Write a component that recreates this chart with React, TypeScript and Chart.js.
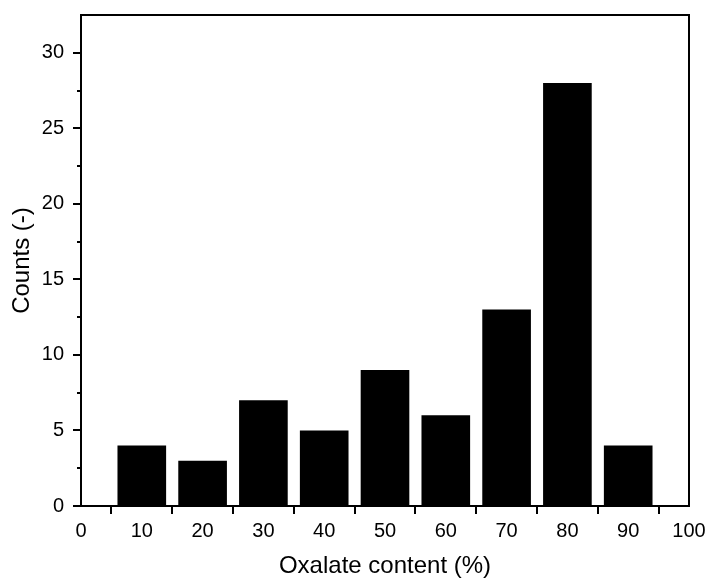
import React, { useEffect, useRef } from "react";
import { Chart, registerables } from "chart.js";

Chart.register(...registerables);

const binCenters = [10, 20, 30, 40, 50, 60, 70, 80, 90];
const counts = [4, 3, 7, 5, 9, 6, 13, 28, 4];
const xTitle = "Oxalate content (%)";
const yTitle = "Counts (-)";
const FONT = "Arial, 'Liberation Sans', sans-serif";

const framePlugin = {
  id: "frame",
  afterDraw(chart: any) {
    const { ctx, chartArea } = chart;
    const { left, right, top, bottom } = chartArea;
    ctx.save();
    ctx.strokeStyle = "#000";
    ctx.lineWidth = 2;
    ctx.strokeRect(left, top, right - left, bottom - top);
    const xs = chart.scales.x;
    const ys = chart.scales.y;
    for (let i = 0; i < xs.ticks.length - 1; i++) {
      const v = (xs.ticks[i].value + xs.ticks[i + 1].value) / 2;
      const px = Math.round(xs.getPixelForValue(v));
      ctx.beginPath();
      ctx.moveTo(px, bottom);
      ctx.lineTo(px, bottom + 4);
      ctx.stroke();
    }
    for (let i = 0; i < ys.ticks.length - 1; i++) {
      const v = (ys.ticks[i].value + ys.ticks[i + 1].value) / 2;
      const py = Math.round(ys.getPixelForValue(v));
      ctx.beginPath();
      ctx.moveTo(left, py);
      ctx.lineTo(left - 4, py);
      ctx.stroke();
    }
    ctx.restore();
  },
};

export default function App() {
  const ref = useRef<HTMLCanvasElement>(null);
  useEffect(() => {
    document.body.style.margin = "0";
    const chart = new Chart(ref.current!, {
      type: "bar",
      data: {
        datasets: [
          {
            data: binCenters.map((x, i) => ({ x, y: counts[i] })),
            backgroundColor: "#000",
            borderWidth: 0,
            barPercentage: 0.8,
            categoryPercentage: 1,
          },
        ],
      },
      options: {
        animation: false,
        responsive: false,
        maintainAspectRatio: false,
        layout: { padding: { top: 15, right: 18, left: 0, bottom: 0 } },
        plugins: { legend: { display: false }, tooltip: { enabled: false } },
        scales: {
          x: {
            type: "linear",
            min: 0,
            max: 100,
            offset: false,
            afterFit: (s: any) => {
              s.height = 75;
              s.paddingLeft = 0;
              s.paddingRight = 0;
            },
            ticks: {
              stepSize: 10,
              includeBounds: false,
              color: "#000",
              padding: 5,
              maxRotation: 0,
              font: { family: FONT, size: 20 },
            },
            grid: {
              drawOnChartArea: false,
              drawTicks: true,
              tickLength: 8,
              color: "#000",
              lineWidth: 2,
            },
            border: { display: true, color: "#000", width: 2 },
            title: {
              display: true,
              text: xTitle,
              color: "#000",
              font: { family: FONT, size: 24 },
              padding: { top: 0, bottom: 0 },
            },
          },
          y: {
            type: "linear",
            min: 0,
            max: 32.5,
            afterFit: (s: any) => {
              s.width = 81;
              s.paddingTop = 0;
              s.paddingBottom = 0;
            },
            ticks: {
              stepSize: 5,
              includeBounds: false,
              color: "#000",
              padding: 9,
              font: { family: FONT, size: 20 },
            },
            grid: {
              drawOnChartArea: false,
              drawTicks: true,
              tickLength: 8,
              color: "#000",
              lineWidth: 2,
            },
            border: { display: true, color: "#000", width: 2 },
            title: {
              display: true,
              text: yTitle,
              color: "#000",
              font: { family: FONT, size: 24 },
              padding: { top: 8, bottom: 0 },
            },
          },
        },
      },
      plugins: [framePlugin],
    });
    return () => chart.destroy();
  }, []);
  return (
    <div style={{ width: 707, height: 581 }}>
      <canvas ref={ref} width={707} height={581} style={{ display: "block" }} />
    </div>
  );
}
